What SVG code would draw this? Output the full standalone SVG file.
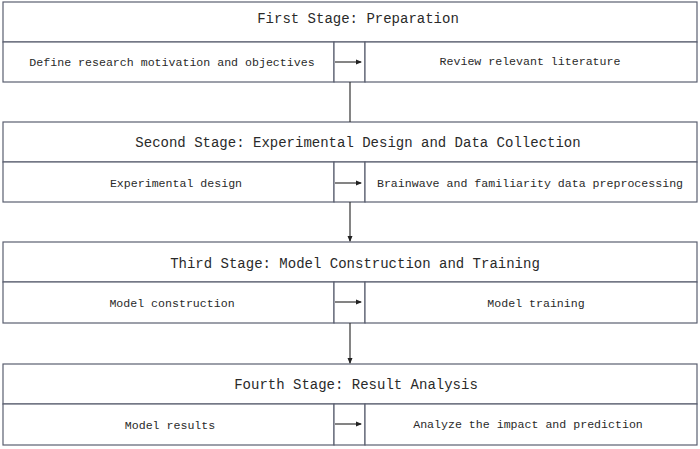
<svg xmlns="http://www.w3.org/2000/svg" width="700" height="449" viewBox="0 0 700 449">
<defs>
<marker id="ah" markerWidth="6" markerHeight="6" refX="5" refY="3" orient="auto" markerUnits="userSpaceOnUse"><path d="M0,0.5 L6,3 L0,5.5 Z" fill="#222"/></marker>
<style>
rect{fill:#fff;stroke:#5a5f70;stroke-width:1.2}
.h{font-family:"Liberation Mono",monospace;font-size:14px;fill:#2a2a2a;text-anchor:middle}
.t{font-family:"Liberation Mono",monospace;font-size:11.6px;fill:#2a2a2a;text-anchor:middle}
.c{stroke:#333;stroke-width:1.2;fill:none}
</style>
</defs>
<rect x="0" y="0" width="700" height="449" style="fill:#fff;stroke:none"/>
<g id="stage1">
<rect x="3" y="2" width="694" height="40"/>
<rect x="3" y="42" width="331" height="40"/>
<rect x="334" y="42" width="31" height="40"/>
<rect x="365" y="42" width="332" height="40"/>
<text class="h" x="358" y="23">First Stage: Preparation</text>
<text class="t" x="172" y="66">Define research motivation and objectives</text>
<text class="t" x="530" y="65">Review relevant literature</text>
</g>
<g id="stage2">
<rect x="3" y="122" width="694" height="40"/>
<rect x="3" y="162" width="331" height="40"/>
<rect x="334" y="162" width="31" height="40"/>
<rect x="365" y="162" width="332" height="40"/>
<text class="h" x="358" y="147">Second Stage: Experimental Design and Data Collection</text>
<text class="t" x="176" y="187">Experimental design</text>
<text class="t" x="530" y="187">Brainwave and familiarity data preprocessing</text>
</g>
<g id="stage3">
<rect x="3" y="242" width="694" height="40"/>
<rect x="3" y="282" width="331" height="41"/>
<rect x="334" y="282" width="31" height="41"/>
<rect x="365" y="282" width="332" height="41"/>
<text class="h" x="355" y="268">Third Stage: Model Construction and Training</text>
<text class="t" x="172" y="307">Model construction</text>
<text class="t" x="536" y="307">Model training</text>
</g>
<g id="stage4">
<rect x="3" y="364" width="694" height="40"/>
<rect x="3" y="404" width="331" height="41"/>
<rect x="334" y="404" width="31" height="41"/>
<rect x="365" y="404" width="332" height="41"/>
<text class="h" x="356" y="389">Fourth Stage: Result Analysis</text>
<text class="t" x="170" y="429">Model results</text>
<text class="t" x="528" y="428">Analyze the impact and prediction</text>
</g>
<g id="connectors">
<line class="c" x1="335" y1="62" x2="361" y2="62" marker-end="url(#ah)"/>
<line class="c" x1="335" y1="183" x2="361" y2="183" marker-end="url(#ah)"/>
<line class="c" x1="335" y1="302" x2="361" y2="302" marker-end="url(#ah)"/>
<line class="c" x1="335" y1="424" x2="361" y2="424" marker-end="url(#ah)"/>
<line class="c" x1="350" y1="82" x2="350" y2="122"/>
<line class="c" x1="350" y1="202" x2="350" y2="241" marker-end="url(#ah)"/>
<line class="c" x1="350" y1="323" x2="350" y2="363" marker-end="url(#ah)"/>
</g>
</svg>
